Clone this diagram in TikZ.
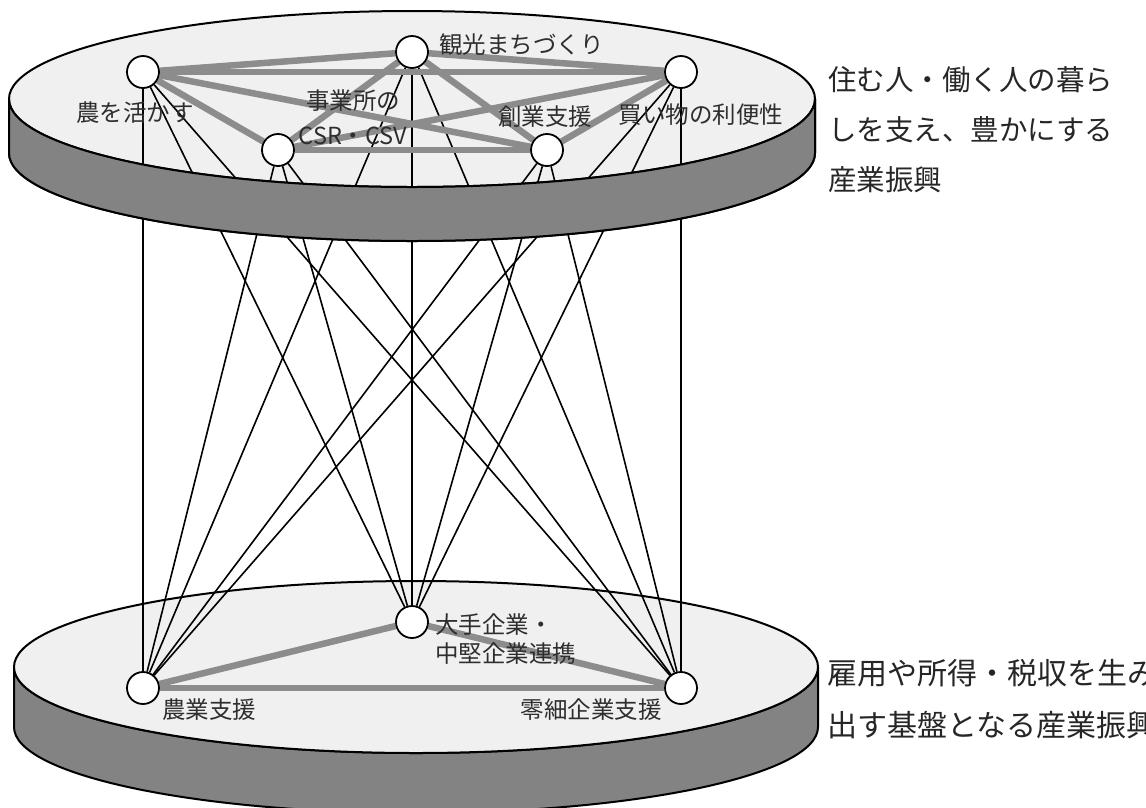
\documentclass[tikz,border=0pt]{standalone}
\usepackage{fontspec}
\setmainfont{Noto Sans CJK JP}
\definecolor{rimgray}{HTML}{838383}
\definecolor{topgray}{HTML}{F0F0F0}
\definecolor{edgegray}{HTML}{8C8C8C}
\definecolor{txt}{HTML}{2E2E2E}
\pgfdeclarelayer{discs}
\pgfdeclarelayer{blklayer}
\pgfdeclarelayer{rimlayer}
\pgfdeclarelayer{grylayer}
\pgfsetlayers{discs,blklayer,rimlayer,grylayer,main}
\begin{document}
\begin{tikzpicture}[x=1pt,y=-1pt,
  nd/.style={circle,draw=black,line width=1.8pt,fill=white,minimum size=32pt,inner sep=0pt},
  blkline/.style={line width=1.6pt,black},
  gryline/.style={line width=6.5pt,edgegray},
  outl/.style={draw=black,line width=2pt},
  lbl/.style={font=\fontsize{23.5}{29}\selectfont,text=txt,inner sep=0pt},
  sidetxt/.style={font=\fontsize{28.5}{50}\selectfont,text=black!85,inner sep=0pt,align=left,anchor=west}
]
\useasboundingbox (0,0) rectangle (1146,807);
\clip (0,0) rectangle (1146,807);

% nodes
\node[nd] (A) at (143,72) {};
\node[nd] (B) at (412,52) {};
\node[nd] (C) at (681,72) {};
\node[nd] (D) at (278,150) {};
\node[nd] (E) at (547,150) {};
\node[nd] (F) at (412,622) {};
\node[nd] (G) at (143,688) {};
\node[nd] (H) at (681,688) {};

% discs
\begin{pgfonlayer}{discs}
  \filldraw[fill=rimgray,outl] (9,99) arc[start angle=180,end angle=360,x radius=403pt,y radius=88pt]
    -- ++(0,54) arc[start angle=0,end angle=-180,x radius=403pt,y radius=88pt] -- cycle;
  \filldraw[fill=topgray,outl] (412,99) ellipse[x radius=403pt,y radius=88pt];
  \filldraw[fill=rimgray,outl] (14,667) arc[start angle=180,end angle=360,x radius=402pt,y radius=86pt]
    -- ++(0,60) arc[start angle=0,end angle=-180,x radius=402pt,y radius=86pt] -- cycle;
  \filldraw[fill=topgray,outl] (416,667) ellipse[x radius=402pt,y radius=86pt];
\end{pgfonlayer}

% black connectors
\begin{pgfonlayer}{blklayer}
  \foreach \u in {A,B,C,D,E}
    \foreach \v in {F,G,H}
      \draw[blkline] (\u) -- (\v);
\end{pgfonlayer}

% front rim of the upper disc hides the connectors
\begin{pgfonlayer}{rimlayer}
  \filldraw[fill=rimgray,outl] (9,99) arc[start angle=180,end angle=360,x radius=403pt,y radius=88pt]
    -- ++(0,54) arc[start angle=0,end angle=-180,x radius=403pt,y radius=88pt] -- cycle;
\end{pgfonlayer}

% gray links
\begin{pgfonlayer}{grylayer}
  \foreach \u/\v in {A/B,A/C,A/D,A/E,B/C,B/D,B/E,C/D,C/E,D/E,F/G,F/H,G/H}
    \draw[gryline] (\u) -- (\v);
\end{pgfonlayer}

% labels
\node[lbl] (lA) at (135,113) {農を活かす};
\node[lbl,anchor=west] (lB) at (439,45) {観光まちづくり};
\node[lbl,align=center,font=\fontsize{23.5}{35}\selectfont] (lD) at (353,117) {事業所の\\CSR・CSV};
\node[lbl] (lE) at (545,117) {創業支援};
\node[lbl] (lC) at (701,115) {買い物の利便性};
\node[lbl,anchor=west,align=left] (lF) at (435,639) {大手企業・\\中堅企業連携};
\node[lbl] (lG) at (209,710) {農業支援};
\node[lbl] (lH) at (591,710) {零細企業支援};

\node[sidetxt] (top) at (828,130) {住む人・働く人の暮ら\\しを支え、豊かにする\\産業振興};
\node[sidetxt,font=\fontsize{30}{52}\selectfont] (bot) at (827,699) {雇用や所得・税収を生み\\出す基盤となる産業振興};
\end{tikzpicture}
\end{document}
